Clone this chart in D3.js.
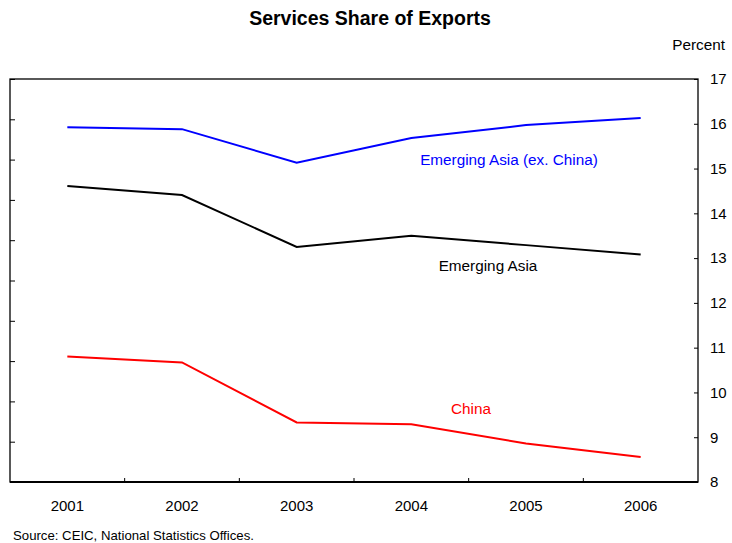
<!DOCTYPE html>
<html lang="en">
  <head>
    <meta charset="utf-8">
    <title>Services Share of Exports</title>
    <script src="https://d3js.org/d3.v7.js"></script>
    <style>
      html, body { margin: 0; padding: 0; background: #fff; overflow: hidden; }
      svg { display: block; }
      svg text { font-family: "Liberation Sans", Arial, sans-serif; }
    </style>
  </head>
  <body>
    <script>

  // size
  var w = 732;
  var h = 543;
  var margin = {top: 79, right: 34, bottom: 61, left: 10};
  var innerWidth = w - margin.left - margin.right;
  var innerHeight = h - margin.top - margin.bottom;

  // data
  var years = ["2001", "2002", "2003", "2004", "2005", "2006"];
  var asiaExChina = [15.92, 15.88, 15.13, 15.68, 15.97, 16.13];
  var asia = [14.61, 14.41, 13.25, 13.50, 13.29, 13.08];
  var china = [10.80, 10.67, 9.33, 9.29, 8.86, 8.56];
  var rightTicks = [8, 9, 10, 11, 12, 13, 14, 15, 16, 17];

  var series = [
    {name: "Emerging Asia (ex. China)", values: asiaExChina, color: "#0000ff", lx: 509, ly: 160},
    {name: "Emerging Asia", values: asia, color: "#000000", lx: 488, ly: 266},
    {name: "China", values: china, color: "#ff0000", lx: 471, ly: 409}
  ];

  // scales
  var xScale = d3.scaleBand()
    .domain(years)
    .range([0, innerWidth]);

  var yScale = d3.scaleLinear()
    .domain([8, 17])
    .range([innerHeight, 0]);

  // left axis has its own unlabeled 10-step scale
  var yLeft = d3.scaleLinear()
    .domain([0, 10])
    .range([innerHeight, 0]);

  var svg = d3.select("body")
    .append("svg")
    .attr("width", w)
    .attr("height", h);

  var g = svg.append("g")
    .attr("transform", `translate(${margin.left}, ${margin.top})`);

  // frame
  g.append("rect")
    .attr("width", innerWidth)
    .attr("height", innerHeight)
    .attr("fill", "none")
    .attr("stroke", "#000")
    .attr("stroke-width", 1.3);

  // left ticks (no labels)
  var leftAxis = g.append("g")
    .call(d3.axisLeft(yLeft).ticks(10).tickSize(-5));
  leftAxis.select(".domain").remove();
  leftAxis.selectAll("text").remove();
  leftAxis.selectAll("line").attr("stroke", "#000");

  // right axis
  var yAxis = g.append("g")
    .attr("transform", `translate(${innerWidth}, 0)`)
    .call(d3.axisRight(yScale).tickValues(rightTicks).tickSize(-4).tickPadding(12).tickFormat(d3.format("d")));
  yAxis.attr("font-family", null).attr("font-size", 15);
  yAxis.select(".domain").remove();
  yAxis.selectAll("text").attr("fill", "#000");

  // x axis labels
  var xAxis = g.append("g")
    .attr("transform", `translate(0, ${innerHeight})`)
    .call(d3.axisBottom(xScale).tickSize(0).tickPadding(18));
  xAxis.attr("font-family", null).attr("font-size", 15);
  xAxis.select(".domain").remove();
  xAxis.selectAll("text").attr("fill", "#000");

  // x tick marks between categories
  g.append("g")
    .selectAll("line")
    .data(years.slice(1))
    .enter()
    .append("line")
    .attr("x1", d => xScale(d))
    .attr("x2", d => xScale(d))
    .attr("y1", innerHeight)
    .attr("y2", innerHeight - 4)
    .attr("stroke", "#000");

  // thicker bottom line
  g.append("line")
    .attr("x1", 0)
    .attr("x2", innerWidth)
    .attr("y1", innerHeight)
    .attr("y2", innerHeight)
    .attr("stroke", "#000")
    .attr("stroke-width", 2.2);

  // lines
  var line = d3.line()
    .x((d, i) => xScale(years[i]) + xScale.bandwidth() / 2)
    .y(d => yScale(d));

  g.selectAll(".series")
    .data(series)
    .enter()
    .append("path")
    .attr("class", "series")
    .attr("d", d => line(d.values))
    .attr("fill", "none")
    .attr("stroke", d => d.color)
    .attr("stroke-width", 2);

  // series labels
  svg.selectAll(".lbl")
    .data(series)
    .enter()
    .append("text")
    .attr("class", "lbl")
    .attr("x", d => d.lx)
    .attr("y", d => d.ly)
    .attr("dy", "0.35em")
    .attr("text-anchor", "middle")
    .attr("font-size", 15.3)
    .attr("fill", d => d.color)
    .text(d => d.name);

  // title, unit, source
  svg.append("text")
    .attr("x", 370)
    .attr("y", 25)
    .attr("text-anchor", "middle")
    .attr("font-size", 19.5)
    .attr("font-weight", "bold")
    .text("Services Share of Exports");

  svg.append("text")
    .attr("x", 725)
    .attr("y", 50)
    .attr("text-anchor", "end")
    .attr("font-size", 15.3)
    .text("Percent");

  svg.append("text")
    .attr("x", 13)
    .attr("y", 540)
    .attr("font-size", 13.2)
    .text("Source: CEIC, National Statistics Offices.");

    </script>
  </body>
</html>
